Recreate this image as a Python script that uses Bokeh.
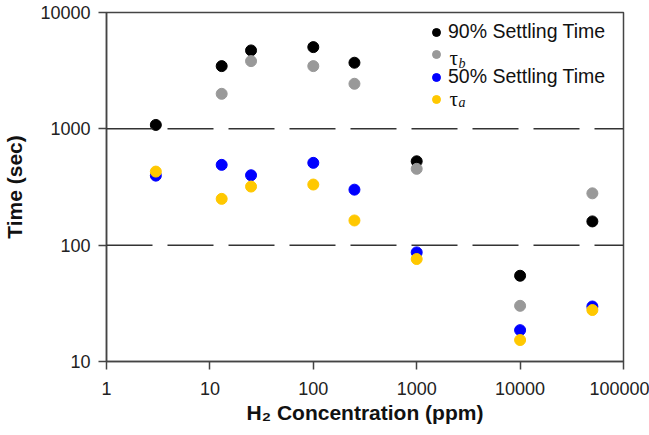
from bokeh.plotting import figure
from bokeh.models import (FixedTicker, NumeralTickFormatter, Span, Legend,
                          LegendItem, Label)
from bokeh.embed import file_html
from bokeh.resources import INLINE

# ---- data ----
conc = [3, 13, 25, 100, 250, 1000, 10000, 50000]
settle90 = [1080, 3460, 4720, 5040, 3700, 526, 54.6, 160]
conc_tau_b = [13, 25, 100, 250, 1000, 10000, 50000]
tau_b = [2000, 3820, 3460, 2440, 453, 30.1, 279]
settle50 = [396, 490, 399, 510, 300, 86.7, 18.6, 29.7]
tau_a = [429, 250, 319, 332, 163, 76, 15.3, 27.7]

x_ticks = [1, 10, 100, 1000, 10000, 100000]
y_ticks = [10, 100, 1000, 10000]
ref_lines = [1000, 100]

FONT = "Liberation Sans"
AX = "#444444"

p = figure(width=649, height=435, x_axis_type="log", y_axis_type="log",
           x_range=(1, 100000), y_range=(10, 10000),
           output_backend="svg", toolbar_location=None,
           min_border_left=105, min_border_right=26,
           min_border_top=12, min_border_bottom=74)

p.xgrid.visible = False
p.ygrid.visible = False
p.outline_line_color = AX
p.outline_line_width = 1.5
p.background_fill_color = "white"
p.border_fill_color = "white"

for ax, ticks in ((p.xaxis[0], x_ticks), (p.yaxis[0], y_ticks)):
    ax.ticker = FixedTicker(ticks=ticks, minor_ticks=[])
    ax.formatter = NumeralTickFormatter(format="0")
    ax.axis_line_color = AX
    ax.axis_line_width = 1.5
    ax.major_tick_line_color = AX
    ax.major_tick_line_width = 1.5
    ax.major_tick_out = 8
    ax.major_tick_in = 0
    ax.minor_tick_line_color = None
    ax.major_label_text_font = FONT
    ax.major_label_text_font_size = "18px"
    ax.major_label_text_color = "#222222"
    ax.axis_label_text_font = FONT
    ax.axis_label_text_font_size = "21px"
    ax.axis_label_text_font_style = "bold"
    ax.axis_label_text_color = "#111111"

p.xaxis[0].axis_label = "H₂ Concentration (ppm)"
p.yaxis[0].axis_label = "Time (sec)"
p.xaxis[0].major_label_standoff = 12
p.yaxis[0].major_label_standoff = 8
p.xaxis[0].axis_label_standoff = 3
p.yaxis[0].axis_label_standoff = 11

for v in ref_lines:
    p.add_layout(Span(location=v, dimension="width", line_color="#333333",
                      line_width=1.5, line_dash="46 15"))

r90 = p.scatter(conc, settle90, size=11, color="black")
rb = p.scatter(conc_tau_b, tau_b, size=11, color="#999999")
r50 = p.scatter(conc, settle50, size=11, color="#0000ff")
ra = p.scatter(conc, tau_a, size=11, color="#ffc800")

legend = Legend(items=[
    LegendItem(label="90% Settling Time", renderers=[r90]),
    LegendItem(label=" ", renderers=[rb]),
    LegendItem(label="50% Settling Time", renderers=[r50]),
    LegendItem(label=" ", renderers=[ra]),
], location=(320, 251), padding=0, margin=0, spacing=0,
   glyph_width=20, glyph_height=22, label_height=22, label_standoff=2,
   label_text_font=FONT, label_text_font_size="19.5px",
   label_text_color="#111111",
   border_line_color=None, background_fill_alpha=0)
p.add_layout(legend)

# tau symbols with italic subscripts
for sub, y_tau, y_sub in (("b", 303.2, 297.7), ("a", 262.2, 258.7)):
    p.add_layout(Label(x=343, y=y_tau, x_units="screen", y_units="screen",
                       text="τ", text_font="Liberation Serif",
                       text_font_size="21px", text_color="#111111",
                       text_baseline="alphabetic"))
    p.add_layout(Label(x=352, y=y_sub, x_units="screen", y_units="screen",
                       text=sub, text_font="Liberation Serif",
                       text_font_style="italic", text_font_size="14px",
                       text_color="#111111", text_baseline="alphabetic"))

open("out.html", "w").write(file_html(p, INLINE))
